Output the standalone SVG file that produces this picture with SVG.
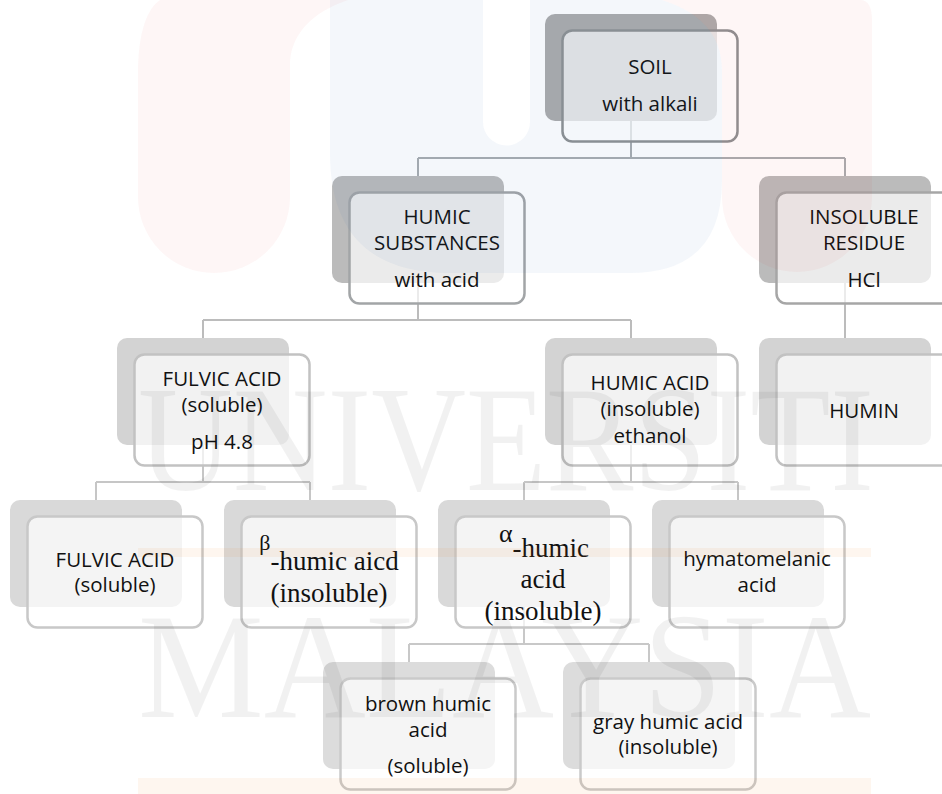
<svg xmlns="http://www.w3.org/2000/svg" width="942" height="794" viewBox="0 0 942 794">
<style>
.t{font-family:"Open Sans","Liberation Sans",sans-serif;font-size:20.5px;fill:#111;text-anchor:middle}
.s{font-family:"Liberation Serif","Times New Roman",serif;font-size:27px;fill:#111;text-anchor:middle}
.fr{fill:#fff;fill-opacity:0.7;stroke-width:2.5}
.c{fill:none;stroke-width:2}
.wm{font-family:"Liberation Serif","Times New Roman",serif;font-size:150px;fill:#000;fill-opacity:0.055}
</style>
<rect width="942" height="794" fill="#fff"/>
<g id="connectors">
<path class="c" stroke="#a9adb0" d="M631 121V158M418 158H845M418 158V176M845 158V176"/>
<path class="c" stroke="#bcbcbc" d="M418 283V320M203 320H631M203 320V338M631 320V338M845 283V338"/>
<path class="c" stroke="#c6c6c6" d="M203 445V482M96 482H310M96 482V500M310 482V500M631 445V482M524 482H738M524 482V500M738 482V500"/>
<path class="c" stroke="#c8c8c8" d="M524 607V644M409 644H649M409 644V662M649 644V662"/>
</g>
<g id="soil"><rect x="545" y="14" width="172" height="107" rx="10" fill="#acacac"/><rect class="fr" x="562.5" y="30.5" width="175" height="111" rx="10" stroke="#8e9193"/><text class="t" x="650" y="74">SOIL</text><text class="t" x="650" y="111">with alkali</text></g>
<g id="humic-substances"><rect x="332" y="176" width="172" height="107" rx="10" fill="#bbbbbb"/><rect class="fr" x="349.5" y="192.5" width="175" height="111" rx="10" stroke="#a2a5a7"/><text class="t" x="437" y="224">HUMIC</text><text class="t" x="437" y="250">SUBSTANCES</text><text class="t" x="437" y="287">with acid</text></g>
<g id="insoluble-residue"><rect x="759" y="176" width="172" height="107" rx="10" fill="#bbbbbb"/><rect class="fr" x="776.5" y="192.5" width="175" height="111" rx="10" stroke="#a6a6a6"/><text class="t" x="864" y="224">INSOLUBLE</text><text class="t" x="864" y="250">RESIDUE</text><text class="t" x="864" y="287">HCl</text></g>
<g id="fulvic-acid-1"><rect x="117" y="338" width="172" height="107" rx="10" fill="#d3d3d3"/><rect class="fr" x="134.5" y="354.5" width="175" height="111" rx="10" stroke="#c2c2c2"/><text class="t" x="222" y="386">FULVIC ACID</text><text class="t" x="222" y="412">(soluble)</text><text class="t" x="222" y="449">pH 4.8</text></g>
<g id="humic-acid"><rect x="545" y="338" width="172" height="107" rx="10" fill="#d3d3d3"/><rect class="fr" x="562.5" y="354.5" width="175" height="111" rx="10" stroke="#c2c2c2"/><text class="t" x="650" y="390">HUMIC ACID</text><text class="t" x="650" y="416">(insoluble)</text><text class="t" x="650" y="443">ethanol</text></g>
<g id="humin"><rect x="759" y="338" width="172" height="107" rx="10" fill="#d3d3d3"/><rect class="fr" x="776.5" y="354.5" width="175" height="111" rx="10" stroke="#c2c2c2"/><text class="t" x="864" y="418">HUMIN</text></g>
<g id="fulvic-acid-2"><rect x="10" y="500" width="172" height="107" rx="10" fill="#d9d9d9"/><rect class="fr" x="27.5" y="516.5" width="175" height="111" rx="10" stroke="#c8c8c8"/><text class="t" x="115" y="567">FULVIC ACID</text><text class="t" x="115" y="592">(soluble)</text></g>
<g id="beta-humic"><rect x="224" y="500" width="172" height="107" rx="10" fill="#d9d9d9"/><rect class="fr" x="241.5" y="516.5" width="175" height="111" rx="10" stroke="#c8c8c8"/><text class="s" x="329" y="550"><tspan font-size="22">β</tspan><tspan dy="20">-humic aicd</tspan></text><text class="s" x="329" y="602">(insoluble)</text></g>
<g id="alpha-humic"><rect x="438" y="500" width="172" height="107" rx="10" fill="#d9d9d9"/><rect class="fr" x="455.5" y="516.5" width="175" height="111" rx="10" stroke="#c8c8c8"/><text class="s" x="544" y="542"><tspan font-size="26">α</tspan><tspan dy="15">-humic</tspan></text><text class="s" x="543" y="588">acid</text><text class="s" x="543" y="620">(insoluble)</text></g>
<g id="hymatomelanic"><rect x="652" y="500" width="172" height="107" rx="10" fill="#d9d9d9"/><rect class="fr" x="669.5" y="516.5" width="175" height="111" rx="10" stroke="#c8c8c8"/><text class="t" x="757" y="566">hymatomelanic</text><text class="t" x="757" y="592">acid</text></g>
<g id="brown-humic"><rect x="323" y="662" width="172" height="107" rx="10" fill="#dcdcdc"/><rect class="fr" x="340.5" y="678.5" width="175" height="111" rx="10" stroke="#cacaca"/><text class="t" x="428" y="711">brown humic</text><text class="t" x="428" y="737">acid</text><text class="t" x="428" y="773">(soluble)</text></g>
<g id="gray-humic"><rect x="563" y="662" width="172" height="107" rx="10" fill="#dcdcdc"/><rect class="fr" x="580.5" y="678.5" width="175" height="111" rx="10" stroke="#cacaca"/><text class="t" x="668" y="729">gray humic acid</text><text class="t" x="668" y="754">(insoluble)</text></g>
<g id="watermark" pointer-events="none">
<path fill="#e02a2a" fill-opacity="0.045" d="M138 197V75C138 30 148 8 160 0H348C312 12 290 35 290 65V197A76 76 0 0 1 138 197Z"/>
<path fill="#e02a2a" fill-opacity="0.045" d="M662 0H860Q872 0 872 20V197A75 75 0 0 1 722 197V70C722 35 700 12 662 0Z"/>
<path fill="#2f6fb0" fill-opacity="0.055" fill-rule="evenodd" d="M330 0H662C700 12 722 35 722 70V180Q722 273 630 273H450Q330 273 330 153ZM483 0V122A23.5 23.5 0 0 0 530 122V0Z"/>
<rect x="138" y="548" width="733" height="9" fill="#f08020" fill-opacity="0.07"/>
<rect x="138" y="778" width="733" height="16" fill="#f08020" fill-opacity="0.07"/>
<text class="wm" x="138" y="490" textLength="736" lengthAdjust="spacingAndGlyphs">UNIVERSITI</text>
<text class="wm" x="138" y="717" textLength="733" lengthAdjust="spacingAndGlyphs">MALAYSIA</text>
</g>
</svg>
